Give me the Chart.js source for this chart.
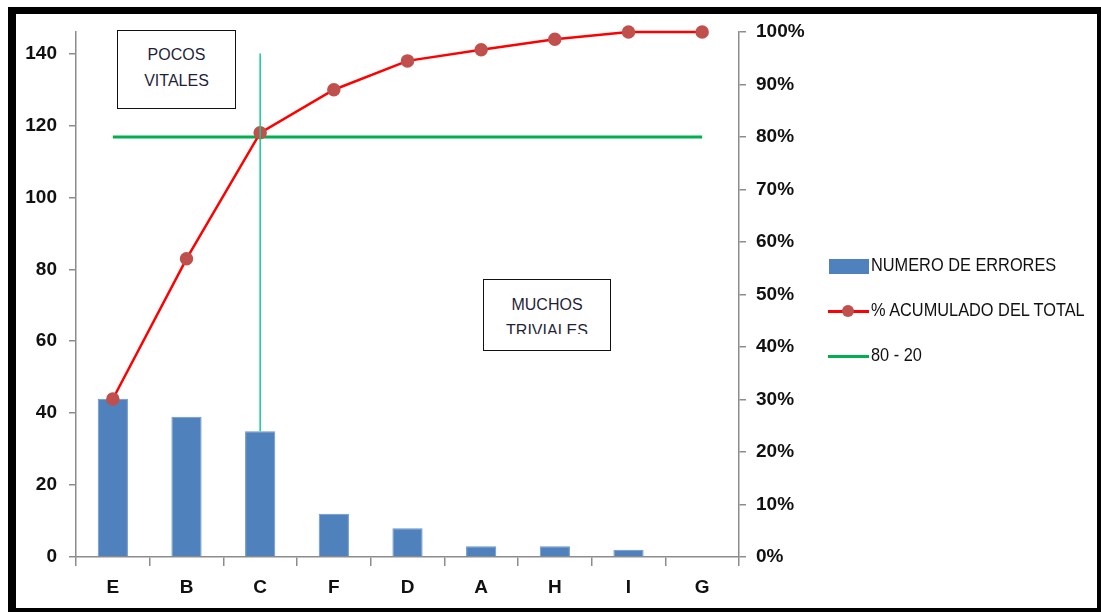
<!DOCTYPE html>
<html>
<head>
<meta charset="utf-8">
<script src="https://cdn.jsdelivr.net/npm/chart.js@4/dist/chart.umd.min.js"></script>
<style>
  html, body { margin: 0; padding: 0; background: #fff; }
  #wrap { position: relative; width: 1101px; height: 612px; overflow: hidden; }
  #chart { position: absolute; left: 0; top: 0; }
  #frame {
    position: absolute; left: 8px; top: 7px; right: 0; bottom: 0;
    border: solid #000; border-width: 7px 4px 4px 8px; box-sizing: border-box;
    pointer-events: none;
  }
  .note {
    position: absolute; border: 1.5px solid #111; background: #fff; box-sizing: border-box;
    font-family: "Liberation Sans", sans-serif; font-size: 16px;
    color: #1f1f3a; text-align: center; line-height: 26px;
  }
  .note .clip { overflow: hidden; }
  #legend { position: absolute; left: 828px; top: 248px; font-family: "Liberation Sans", sans-serif; font-size: 19px; color: #111; }
  .item { position: relative; height: 45px; }
  .item span { position: absolute; left: 43px; top: 6px; white-space: nowrap; transform: scaleX(0.86); transform-origin: 0 50%; }
  .swatch { position: absolute; left: 1px; top: 11px; width: 40px; height: 15px; }
  .lineSw { position: absolute; left: 0; top: 17px; width: 41px; height: 3px; }
  .dot { position: absolute; left: 14px; top: 12px; width: 12px; height: 12px; border-radius: 50%; }
</style>
</head>
<body>
<div id="wrap">
  <canvas id="chart" width="1101" height="612"></canvas>
  <div class="note" style="left:117px; top:30px; width:119px; height:79px; padding-top:11px;">POCOS<br>VITALES</div>
  <div class="note" style="left:483px; top:279px; width:128px; height:72px; padding-top:12px;">
    <div class="clip" style="height:42px;">MUCHOS<br>TRIVIALES</div>
  </div>
  <div id="legend"></div>
  <div id="frame"></div>
</div>
<script>
// Pareto data
const categories = ['E', 'B', 'C', 'F', 'D', 'A', 'H', 'I', 'G'];
const errorCounts = [44, 39, 35, 12, 8, 3, 3, 2, 0];
const cumulativePct = [30.1, 56.8, 80.8, 89.0, 94.5, 96.6, 98.6, 100, 100];
const cutoffPct = [80, 80, 80, 80, 80, 80, 80, 80, 80];
const countTicks = [0, 20, 40, 60, 80, 100, 120, 140];
const countMax = 146;   // total number of errors = 100%
const pctStep = 10;
// vertical divider drawn at the "vital few" cut
const dividerCategory = 'C';
const dividerTop = 140;

const seriesNames = ['NUMERO DE ERRORES', '% ACUMULADO DEL TOTAL', '80 - 20'];
const barColor = '#4f81bd';
const lineColor = '#ff0000';
const pointColor = '#c0504d';
const cutoffColor = '#00b050';

const tickFont = { family: '"Liberation Sans", sans-serif', size: 19, weight: 'bold' };
const axisGray = '#8c8c8c';

// thin vertical line from the divider category down to its bar
const dividerPlugin = {
  id: 'divider',
  afterDatasetsDraw(chart) {
    const ctx = chart.ctx;
    const i = categories.indexOf(dividerCategory);
    const x = chart.scales.x.getPixelForValue(i);
    const y1 = chart.scales.y.getPixelForValue(dividerTop);
    const y2 = chart.scales.y.getPixelForValue(errorCounts[i]);
    ctx.save();
    ctx.strokeStyle = '#11cc88';
    ctx.lineWidth = 1.5;
    ctx.beginPath();
    ctx.moveTo(x, y1);
    ctx.lineTo(x, y2);
    ctx.stroke();
    ctx.restore();
  }
};

const ctx = document.getElementById('chart').getContext('2d');
const chart = new Chart(ctx, {
  data: {
    labels: categories,
    datasets: [
      {
        type: 'line',
        label: seriesNames[1],
        data: cumulativePct,
        yAxisID: 'y1',
        borderColor: lineColor,
        borderWidth: 2.5,
        pointRadius: 5.5,
        pointBackgroundColor: pointColor,
        pointBorderColor: pointColor,
        tension: 0,
        clip: false,
        order: 1
      },
      {
        type: 'line',
        label: seriesNames[2],
        data: cutoffPct,
        yAxisID: 'y1',
        borderColor: cutoffColor,
        borderWidth: 3,
        pointRadius: 0,
        clip: false,
        order: 2
      },
      {
        type: 'bar',
        label: seriesNames[0],
        data: errorCounts,
        yAxisID: 'y',
        backgroundColor: barColor,
        borderColor: '#6b96cc',
        borderWidth: 1,
        categoryPercentage: 1,
        barPercentage: 0.41,
        order: 3
      }
    ]
  },
  options: {
    responsive: false,
    animation: false,
    layout: { padding: { left: 0, right: 262, top: 32, bottom: 0 } },
    plugins: { legend: { display: false }, tooltip: { enabled: false } },
    scales: {
      x: {
        grid: { offset: true, drawOnChartArea: false, drawTicks: true, tickLength: 9, color: axisGray, lineWidth: 1.5 },
        border: { color: axisGray, width: 1.5 },
        ticks: { font: tickFont, color: '#111', padding: 10 },
        afterFit(scale) { scale.height = 55; }
      },
      y: {
        position: 'left',
        min: 0,
        max: countMax,
        ticks: { font: tickFont, color: '#111', padding: 12 },
        grid: { drawOnChartArea: false, tickLength: 7, color: axisGray, lineWidth: 1.5 },
        border: { color: axisGray, width: 1.5 },
        afterBuildTicks(scale) { scale.ticks = countTicks.map(v => ({ value: v })); },
        afterFit(scale) { scale.width = 76; }
      },
      y1: {
        position: 'right',
        min: 0,
        max: 100,
        ticks: { stepSize: pctStep, font: tickFont, color: '#111', padding: 10, callback: v => v + '%' },
        grid: { drawOnChartArea: false, tickLength: 7, color: axisGray, lineWidth: 1.5 },
        border: { color: axisGray, width: 1.5 },
        afterFit(scale) { scale.width = 100; }
      }
    }
  },
  plugins: [dividerPlugin]
});

// legend on the right, built from the datasets
const legend = document.getElementById('legend');
const bar = chart.data.datasets[2], cum = chart.data.datasets[0], cut = chart.data.datasets[1];
legend.innerHTML =
  '<div class="item"><div class="swatch" style="background:' + bar.backgroundColor + '"></div><span>' + bar.label + '</span></div>' +
  '<div class="item"><div class="lineSw" style="background:' + cum.borderColor + '"></div><div class="dot" style="background:' + cum.pointBackgroundColor + '"></div><span>' + cum.label + '</span></div>' +
  '<div class="item"><div class="lineSw" style="background:' + cut.borderColor + '"></div><span>' + cut.label + '</span></div>';
</script>
</body>
</html>
